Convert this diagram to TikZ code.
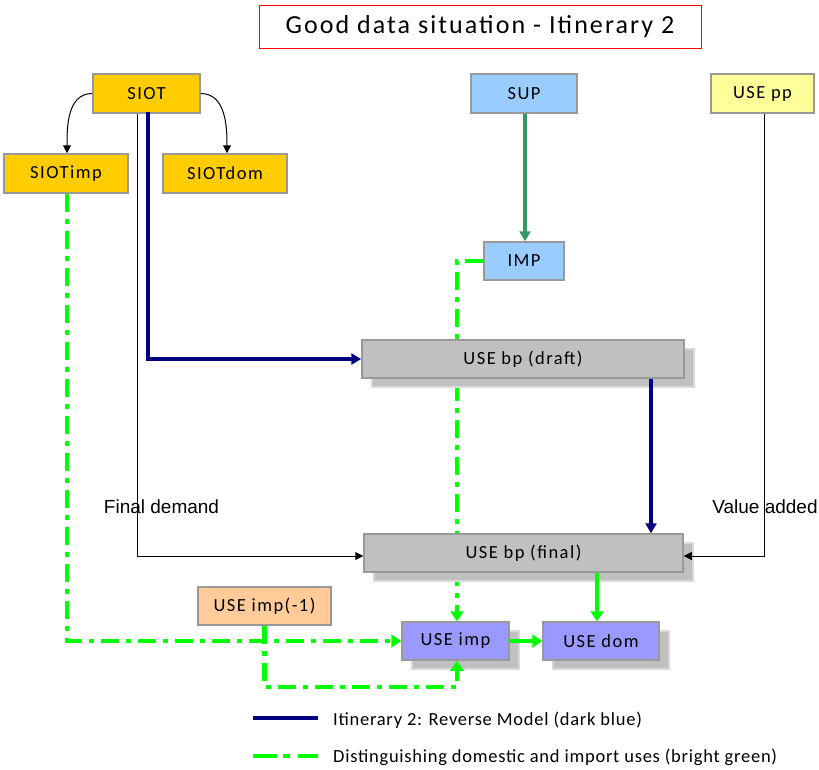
\documentclass[tikz,border=0pt]{standalone}
\usepackage{fontspec}
\setmainfont{Carlito}
\newfontfamily\boxfont[LetterSpace=8]{Carlito}
\newfontfamily\titlefont[LetterSpace=8]{Carlito}
\newfontfamily\legendfont[LetterSpace=4]{Carlito}
\newfontfamily\notefont{Liberation Sans}
\usetikzlibrary{arrows.meta,shadows}

\definecolor{gold}{HTML}{FFCC00}
\definecolor{skyblue}{HTML}{99CCFF}
\definecolor{paleyellow}{HTML}{FFFF99}
\definecolor{silvergray}{HTML}{C0C0C0}
\definecolor{peach}{HTML}{FFCC99}
\definecolor{lavender}{HTML}{9999FF}
\definecolor{edgegray}{HTML}{999999}
\definecolor{navyblue}{HTML}{000080}
\definecolor{brightgreen}{HTML}{00FF00}
\definecolor{seagreen}{HTML}{339966}

\pgfdeclarelayer{behind}
\pgfsetlayers{behind,main}

\tikzset{
  box/.style={draw=edgegray, line width=1.5pt, inner sep=0pt,
    minimum height=38pt, font=\boxfont\fontsize{18.5}{22}\selectfont},
  shadowed/.style={drop shadow={shadow xshift=10pt, shadow yshift=-9pt,
    fill=silvergray, draw=silvergray!60, opacity=1}},
  plainlink/.style={draw=black, line width=1pt, -{Triangle[length=8pt,width=8pt]}},
  reverselink/.style={draw=navyblue, line width=3.5pt, -{Triangle[length=10pt,width=11pt]}},
  supplylink/.style={draw=seagreen, line width=3.5pt, -{Triangle[length=10pt,width=11pt]}},
  importlink/.style={draw=brightgreen, line width=4.5pt,
    dash pattern=on 18pt off 7pt on 5pt off 7pt,
    -{Triangle[length=10pt,width=13pt]}},
  domlink/.style={draw=brightgreen, line width=4pt, -{Triangle[length=10pt,width=13pt]}},
  note/.style={font=\notefont\fontsize{19}{22}\selectfont, inner sep=0pt, anchor=base},
  legendtext/.style={font=\legendfont\fontsize{18.5}{22}\selectfont, inner sep=0pt, anchor=west},
}

\begin{document}
\begin{tikzpicture}[x=1pt,y=-1pt]
\useasboundingbox (0,0) rectangle (819,769);

% title
\node[draw=red, line width=0.8pt, minimum width=442pt, minimum height=43pt,
  inner sep=0pt, font=\titlefont\fontsize{26}{30}\selectfont] (title) at (480,26.5)
  {Good data situation - Itinerary 2};

% side labels (the flow lines run over them)
\node[note] (fd) at (161.5,513) {Final demand};
\node[note] (va) at (765,513) {Value added};

% source tables
\node[box, fill=gold, minimum width=107pt, minimum height=39pt] (SIOT) at (146.5,93.5) {SIOT};
\node[box, fill=gold, minimum width=124pt, minimum height=39pt] (SIOTimp) at (66,173.5) {SIOTimp};
\node[box, fill=gold, minimum width=124pt, minimum height=39pt] (SIOTdom) at (225,173.5) {SIOTdom};
\node[box, fill=skyblue, minimum width=106pt, minimum height=39pt] (SUP) at (524,93.5) {SUP};
\node[box, fill=paleyellow, minimum width=103pt, minimum height=39pt] (USEpp) at (762.5,93.5) {USE pp};
\node[box, fill=skyblue, minimum width=80pt] (IMP) at (524,261) {IMP};

% use tables
\node[box, shadowed, fill=silvergray, minimum width=322pt] (draft) at (523,359) {USE bp (draft)};
\node[box, shadowed, fill=silvergray, minimum width=319pt] (final) at (523.5,553) {USE bp (final)};
\node[box, fill=peach, minimum width=133pt] (useimpprev) at (264.5,606) {USE imp(-1)};
\node[box, shadowed, fill=lavender, minimum width=107pt] (useimp) at (455.5,641) {USE imp};
\node[box, shadowed, fill=lavender, minimum width=116pt] (usedom) at (601,641) {USE dom};

% import path running behind the bp tables
\begin{pgfonlayer}{behind}
  \draw[importlink] (IMP.west) -| ([xshift=1.5pt]useimp.north);
\end{pgfonlayer}

% SIOT split
\draw[plainlink] (SIOT.west) to[out=180,in=90] ([xshift=1pt]SIOTimp.north);
\draw[plainlink] (SIOT.east) to[out=0,in=90] ([xshift=2pt]SIOTdom.north);

% black flows into the final table
\draw[plainlink] ([xshift=-9.5pt]SIOT.south) |- ([yshift=-3pt]final.west);
\draw[plainlink] ([xshift=1.5pt]USEpp.south) |- ([yshift=-3pt]final.east);

% reverse model
\draw[reverselink] ([xshift=1.5pt,yshift=2pt]SIOT.south) |- (draft.west);
\draw[reverselink] ([xshift=128pt]draft.south) -- ([xshift=128pt]draft.south |- final.north);

% supply to imports
\draw[supplylink] ([xshift=1pt]SUP.south) -- ([xshift=1pt]IMP.north);

% domestic / import split
\draw[importlink] ([xshift=1pt]SIOTimp.south) |- (useimp.west);
\draw[importlink] (useimpprev.south) -- ++(0,61) -| ([xshift=1.5pt]useimp.south);
\draw[domlink] (useimp.east) -- (usedom.west);
\draw[domlink] ([xshift=-4pt]usedom.north |- final.south) -- ([xshift=-4pt]usedom.north);

% legend
\coordinate (lbA) at (253,718);
\coordinate (lbB) at (318,718);
\coordinate (lgA) at (253,756);
\coordinate (lgB) at (318,756);
\draw[draw=navyblue, line width=3.5pt] (lbA) -- (lbB);
\draw[draw=brightgreen, line width=4.5pt, dash pattern=on 24pt off 6pt on 7pt off 8pt] (lgA) -- (lgB);
\node[legendtext] (lbtext) at (333,720) {Itinerary 2: Reverse Model (dark blue)};
\node[legendtext] (lgtext) at (333,757) {Distinguishing domestic and import uses (bright green)};
\end{tikzpicture}
\end{document}
